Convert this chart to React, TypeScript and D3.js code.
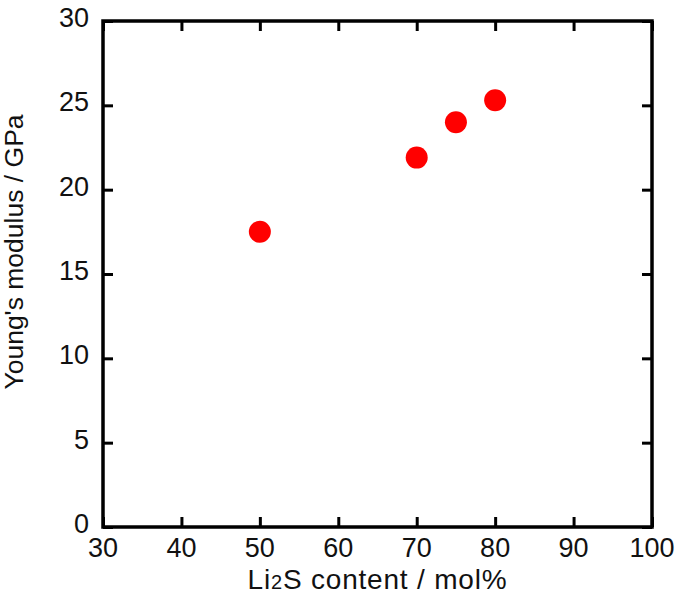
import * as d3 from 'd3';
import React, { useEffect, useRef } from 'react';

const li2sContent = [50, 70, 75, 80];
const youngsModulus = [17.5, 21.9, 24.0, 25.3];
const xTicks = [30, 40, 50, 60, 70, 80, 90, 100];
const yTicks = [0, 5, 10, 15, 20, 25, 30];

const W = 679;
const H = 596;
const margin = { top: 21, right: 27, bottom: 69, left: 103 };
const font = '"Liberation Sans", Arial, sans-serif';

function App() {
  const svgRef = useRef<SVGSVGElement>(null);

  useEffect(() => {
    const svg = d3.select(svgRef.current);
    svg.selectAll('*').remove();

    const x = d3.scaleLinear().domain([30, 100]).range([margin.left, W - margin.right]);
    const y = d3.scaleLinear().domain([0, 30]).range([H - margin.bottom, margin.top]);

    const x0 = x.range()[0];
    const x1 = x.range()[1];
    const y0 = y.range()[0];
    const y1 = y.range()[1];
    const tickLen = 10;

    // points first so the frame sits on top
    svg
      .selectAll('.pt')
      .data(li2sContent)
      .join('circle')
      .attr('class', 'pt')
      .attr('cx', d => x(d))
      .attr('cy', (d, i) => y(youngsModulus[i]))
      .attr('r', 11)
      .attr('fill', '#ff0000');

    const axes = svg.append('g').attr('stroke', '#000').attr('stroke-width', 3);

    // inward ticks on all four sides
    const bottom = d3.axisTop(x).tickValues(xTicks).tickSize(tickLen).tickFormat(() => '');
    const top = d3.axisBottom(x).tickValues(xTicks).tickSize(tickLen).tickFormat(() => '');
    const left = d3.axisRight(y).tickValues(yTicks).tickSize(tickLen).tickFormat(() => '');
    const right = d3.axisLeft(y).tickValues(yTicks).tickSize(tickLen).tickFormat(() => '');

    [
      axes.append('g').attr('transform', `translate(0,${y0})`).call(bottom),
      axes.append('g').attr('transform', `translate(0,${y1})`).call(top),
      axes.append('g').attr('transform', `translate(${x0},0)`).call(left),
      axes.append('g').attr('transform', `translate(${x1},0)`).call(right),
    ].forEach(g => {
      g.select('.domain').remove();
      g.selectAll('line').attr('stroke', '#000').attr('stroke-width', 3);
    });

    axes
      .append('rect')
      .attr('x', x0)
      .attr('y', y1)
      .attr('width', x1 - x0)
      .attr('height', y0 - y1)
      .attr('fill', 'none')
      .attr('stroke', '#000')
      .attr('stroke-width', 3.5);

    // tick labels
    svg
      .selectAll('.xl')
      .data(xTicks)
      .join('text')
      .attr('class', 'xl')
      .attr('x', d => x(d))
      .attr('y', y0 + 30)
      .attr('text-anchor', 'middle')
      .attr('font-family', font)
      .attr('font-size', 27)
      .attr('fill', '#111')
      .text(d => d);

    svg
      .selectAll('.yl')
      .data(yTicks)
      .join('text')
      .attr('class', 'yl')
      .attr('x', x0 - 14)
      .attr('y', d => y(d) + 6)
      .attr('text-anchor', 'end')
      .attr('font-family', font)
      .attr('font-size', 27)
      .attr('fill', '#111')
      .text(d => d);

    // axis titles
    const xt = svg
      .append('text')
      .attr('x', (x0 + x1) / 2)
      .attr('y', 589)
      .attr('text-anchor', 'middle')
      .attr('font-family', font)
      .attr('font-size', 28)
      .attr('letter-spacing', 0.8)
      .attr('fill', '#111');
    xt.append('tspan').text('Li');
    xt.append('tspan').attr('font-size', 20).text('2');
    xt.append('tspan').text('S content / mol%');

    svg
      .append('text')
      .attr('transform', `translate(23,252) rotate(-90)`)
      .attr('text-anchor', 'middle')
      .attr('font-family', font)
      .attr('font-size', 26.5)
      .attr('fill', '#111')
      .text("Young's modulus / GPa");
  }, []);

  return (
    <div style={{ position: 'absolute', left: 0, top: 0 }}>
      <svg ref={svgRef} width={W} height={H} style={{ display: 'block', background: '#fff' }} />
    </div>
  );
}

export default App;
